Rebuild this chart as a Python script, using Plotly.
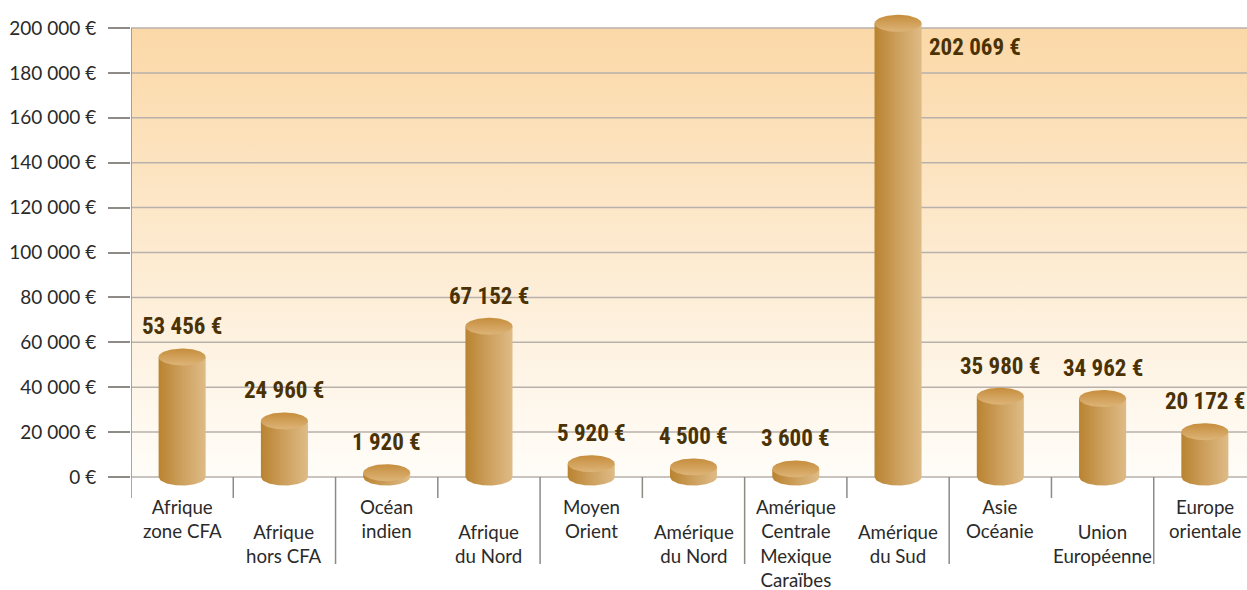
import numpy as np
import plotly.graph_objects as go

# ---- data ----
categories = ["Afrique<br>zone CFA", "Afrique<br>hors CFA", "Océan<br>indien", "Afrique<br>du Nord",
              "Moyen<br>Orient", "Amérique<br>du Nord", "Amérique<br>Centrale<br>Mexique<br>Caraïbes",
              "Amérique<br>du Sud", "Asie<br>Océanie", "Union<br>Européenne", "Europe<br>orientale"]
values = [53456, 24960, 1920, 67152, 5920, 4500, 3600, 202069, 35980, 34962, 20172]
value_labels = ["53 456 €", "24 960 €", "1 920 €", "67 152 €", "5 920 €", "4 500 €", "3 600 €",
                "202 069 €", "35 980 €", "34 962 €", "20 172 €"]
tick_values = [0, 20000, 40000, 60000, 80000, 100000, 120000, 140000, 160000, 180000, 200000]
tick_labels = ["0 €", "20 000 €", "40 000 €", "60 000 €", "80 000 €", "100 000 €", "120 000 €",
               "140 000 €", "160 000 €", "180 000 €", "200 000 €"]

# ---- geometry/style ----
Y_MIN, Y_MAX = -8018, 210245
UNITS_PER_PX = (Y_MAX - Y_MIN) / 490.0
RY = 8.5 * UNITS_PER_PX   # ellipse half-height in data units
RX = 0.23                 # cylinder half-width in category units
X_MAX = 10.412
LABEL_FONT = "Noto Sans Condensed, Roboto Condensed, Lato"

fig = go.Figure()

# background gradient area
fig.add_trace(go.Scatter(
    x=[-0.5, 11, 11, -0.5, -0.5], y=[0, 0, 200000, 200000, 0],
    mode="lines", line=dict(width=0), fill="toself",
    fillgradient=dict(type="vertical", colorscale=[[0, "#FFFDF9"], [1, "#FBD8A7"]], start=0, stop=200000),
    hoverinfo="skip", showlegend=False))

# gridlines
gx, gy = [], []
for t in tick_values:
    gx += [-0.5, 11, None]
    gy += [t, t, None]
fig.add_trace(go.Scatter(x=gx, y=gy, mode="lines", line=dict(color="#B8B1AB", width=1.5),
                         hoverinfo="skip", showlegend=False))

# cylinders
tt = np.linspace(-1, 1, 60)
for i, v in enumerate(values):
    c = i
    bx = list(c + RX * tt)
    by = list(-RY * np.sqrt(np.clip(1 - tt ** 2, 0, None)))
    px = bx + [c + RX, c - RX, c - RX]
    py = by + [v, v, by[0]]
    fig.add_trace(go.Scatter(
        x=px, y=py, mode="lines", line=dict(width=0), fill="toself",
        fillgradient=dict(type="horizontal", colorscale=[[0, "#B98330"], [0.5, "#CDA05E"], [1, "#DEBB86"]],
                          start=c - RX, stop=c + RX),
        hoverinfo="skip", showlegend=False))
    th = np.linspace(0, 2 * np.pi, 100)
    ex = c + RX * np.cos(th)
    ey = v + RY * np.sin(th)
    fig.add_trace(go.Scatter(
        x=ex, y=ey, mode="lines", line=dict(width=0), fill="toself",
        fillgradient=dict(type="vertical", colorscale=[[0, "#DDB478"], [1, "#C68D3C"]],
                          start=v - RY, stop=v + RY),
        hoverinfo="skip", showlegend=False))

# value labels
for i, (v, lab) in enumerate(zip(values, value_labels)):
    if v > 190000:
        fig.add_annotation(x=i + RX + 0.05, y=v, xref="x", yref="y", text=lab, showarrow=False,
                           xanchor="left", yanchor="middle", yshift=-24,
                           font=dict(family=LABEL_FONT, size=23, color="#4A3204", weight="bold"))
    else:
        fig.add_annotation(x=i, y=v, xref="x", yref="y", text=lab, showarrow=False,
                           xanchor="center", yanchor="middle", yshift=30,
                           font=dict(family=LABEL_FONT, size=23, color="#4A3204", weight="bold"))

# category labels (staggered)
for i, cat in enumerate(categories):
    fig.add_annotation(x=i, y=0, xref="x", yref="y", text=cat, showarrow=False,
                       xanchor="center", yanchor="top", yshift=-17 if i % 2 == 0 else -42,
                       font=dict(family="Lato, Open Sans", size=18.7, color="#2A2A2A"))

# axis line and separators
sep_color = "#8E8A86"
paper = lambda px: (495 - px) / 490.0
fig.add_shape(type="line", xref="x", yref="paper", x0=-0.5, x1=-0.5, y0=paper(498), y1=paper(28),
              line=dict(color=sep_color, width=1.5))
for k in range(1, 11):
    bottom = 564 if k % 2 == 0 else 498
    fig.add_shape(type="line", xref="x", yref="paper", x0=k - 0.5, x1=k - 0.5, y0=paper(477),
                  y1=paper(bottom), line=dict(color=sep_color, width=1.5))

fig.update_layout(
    width=1247, height=590,
    margin=dict(l=131, r=0, t=5, b=95),
    paper_bgcolor="white", plot_bgcolor="white",
    showlegend=False,
    xaxis=dict(range=[-0.5, X_MAX], showgrid=False, zeroline=False, showticklabels=False,
               ticks="", showline=False, fixedrange=True),
    yaxis=dict(range=[Y_MIN, Y_MAX], showgrid=False, zeroline=False, showline=False,
               tickvals=tick_values, ticktext=tick_labels, ticks="outside", ticklen=22,
               tickwidth=1.5, tickcolor=sep_color, ticklabelstandoff=8,
               tickfont=dict(family="Lato, Open Sans", size=19, color="#2A2A2A"), fixedrange=True),
)

fig.write_html("out.html", config={"displayModeBar": False},
               post_script="document.body.style.margin='0px';")
